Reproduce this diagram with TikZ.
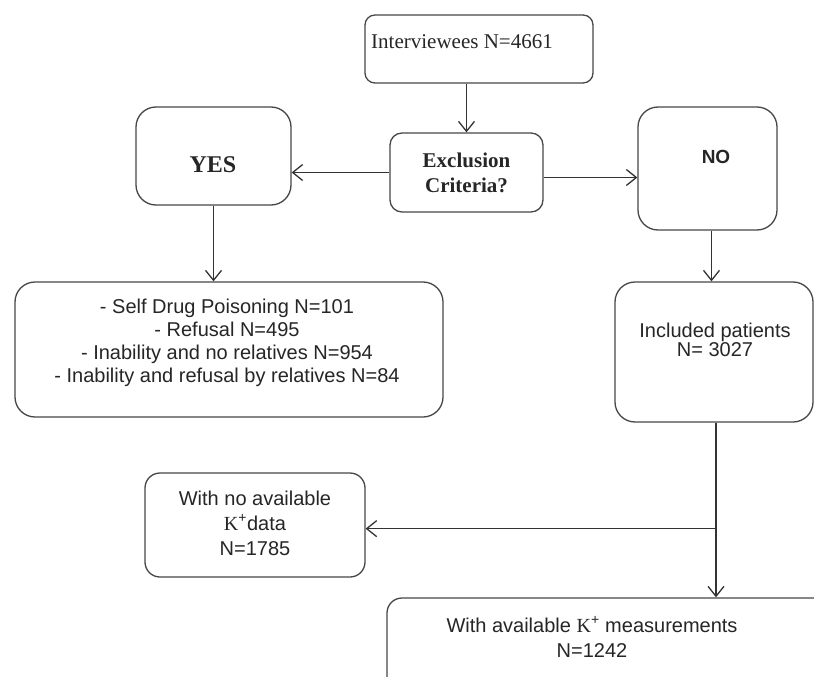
\documentclass[tikz,border=0pt]{standalone}
\usepackage{fontspec}
\setmainfont{Liberation Serif}
\newfontfamily\sansf{Liberation Sans}
\newfontfamily\kserif{Liberation Serif}
\usetikzlibrary{arrows.meta,calc}
\begin{document}
\begin{tikzpicture}[x=1pt,y=-1pt,
  box/.style={draw=black!72, line width=1.3pt, inner sep=0pt},
  arr/.style={draw=black!80, line width=1.3pt, -{Straight Barb[length=10pt,width=16pt,line width=1.3pt]}},
  txt/.style={text=black!85, align=center, inner sep=0pt},
  serift/.style={font=\fontsize{21}{25}\selectfont},
  sanst/.style={font=\sansf\fontsize{20}{24}\selectfont}]
\useasboundingbox (0,0) rectangle (814,677);
\fill[white] (0,0) rectangle (814,677);
\clip (0,0) rectangle (814,677);
% boxes
\node[box, rounded corners=10pt, minimum width=228, minimum height=68] (interv) at (479,49) {};
\node[txt, serift] (intervt) at (462,42) {Interviewees N=4661};
\node[box, rounded corners=12pt, minimum width=153, minimum height=79, txt, font=\bfseries\fontsize{21}{25}\selectfont] (excl) at (466.5,172.5) {Exclusion\\Criteria?};
\node[box, rounded corners=20pt, minimum width=155, minimum height=98] (yes) at (213.5,156) {};
\node[txt, font=\bfseries\fontsize{24}{28}\selectfont] (yest) at (213,165) {YES};
\node[box, rounded corners=20pt, minimum width=139, minimum height=123] (no) at (707.5,168.5) {};
\node[txt, font=\sansf\bfseries\fontsize{19}{23}\selectfont] (not) at (716,157) {NO};
\node[box, rounded corners=20pt, minimum width=428, minimum height=135] (excluded) at (229,349.5) {};
\node[txt, font=\sansf\fontsize{20}{23}\selectfont] (excludedt) at (227,343) {- Self Drug Poisoning N=101\\- Refusal N=495\\- Inability and no relatives N=954\\- Inability and refusal by relatives N=84};
\node[box, rounded corners=20pt, minimum width=198, minimum height=140] (incl) at (714,352) {};
\node[txt, font=\sansf\fontsize{20}{19}\selectfont] (inclt) at (715,340) {Included patients\\N= 3027};
\node[box, rounded corners=15pt, minimum width=220, minimum height=104] (nodata) at (255,525) {};
\node[txt, font=\sansf\fontsize{20}{25}\selectfont] (nodatat) at (255,523) {With no available\\{\kserif K}\textsuperscript{+}data\\N=1785};
\node[box, rounded corners=15pt, minimum width=463, minimum height=112] (avail) at (618.5,654) {};
\node[txt, font=\sansf\fontsize{20}{25}\selectfont] (availt) at (592,637) {With available {\kserif K}\textsuperscript{+} measurements\\N=1242};
% connectors
\draw[arr] (excl.north |- interv.south) -- (excl.north);
\draw[arr] (excl.west) -- (excl.west -| yes.east);
\draw[arr] ([yshift=-5pt]excl.east) -- ([yshift=-5pt]excl.east -| no.west);
\draw[arr] (yes.south) -- (yes.south |- excluded.north);
\draw[arr] ([xshift=4pt]no.south) -- ([xshift=4pt]no.south |- incl.north);
\coordinate (br) at ($(incl.south)+(2,106)$);
\draw[arr] ([xshift=2pt]incl.south) -- (br |- avail.north);
\draw[arr] (br) -- (br -| nodata.east);
\end{tikzpicture}
\end{document}
